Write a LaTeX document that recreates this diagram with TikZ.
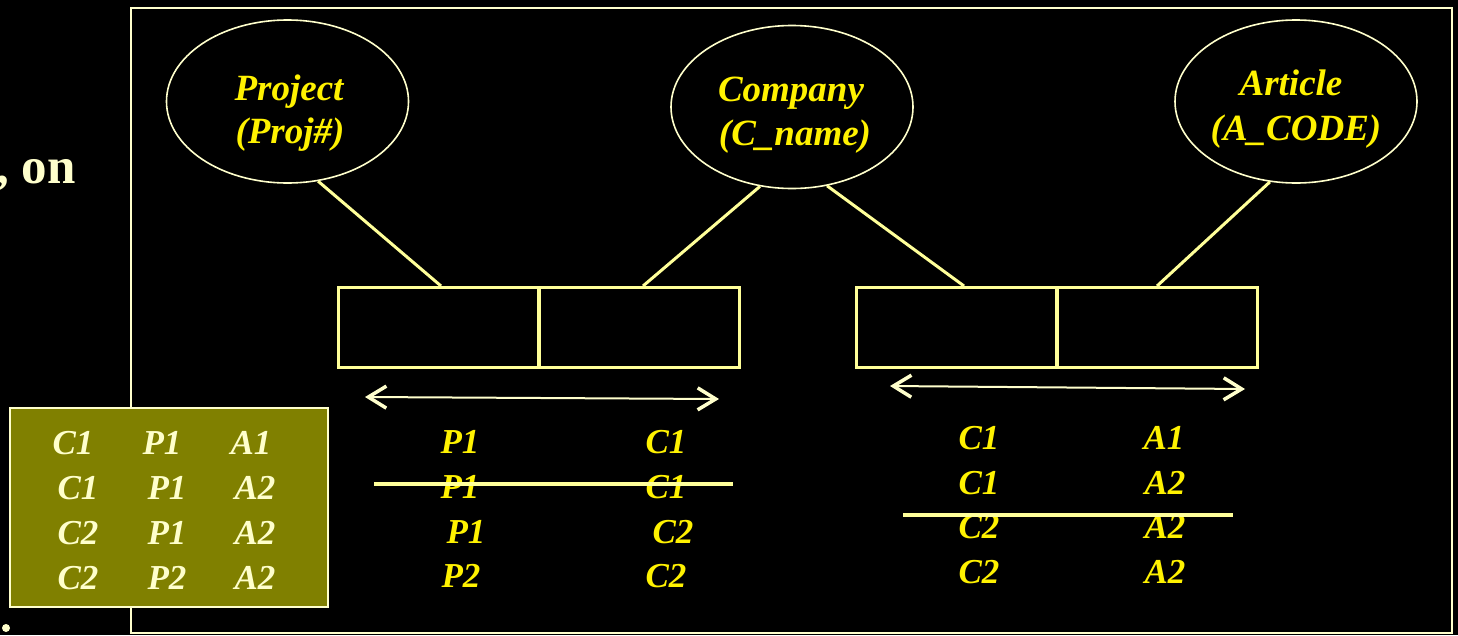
\documentclass[tikz,border=0pt]{standalone}
\usepackage{fontspec}
\setmainfont{Liberation Serif}
\usetikzlibrary{arrows.meta,calc,shapes.geometric}
\definecolor{cream}{HTML}{FFFFCC}
\definecolor{paleyel}{HTML}{FFFF99}
\definecolor{olivebg}{HTML}{808000}
\begin{document}
\begin{tikzpicture}[x=1pt,y=-1pt,
  entity/.style={draw=cream,line width=1.6pt,ellipse,minimum width=242pt,minimum height=163pt,inner sep=0pt},
  cell/.style={draw=paleyel,line width=3pt,minimum width=200pt,minimum height=80pt,inner sep=0pt},
  link/.style={draw=paleyel,line width=3pt},
  strike/.style={draw=paleyel,line width=3.5pt},
  span/.style={draw=cream,line width=2pt,{Straight Barb[length=18pt,width=22pt,line width=3.5pt]}-{Straight Barb[length=18pt,width=22pt,line width=3.5pt]}},
  etext/.style={text=yellow,font=\fontsize{37}{41}\selectfont\bfseries\itshape,anchor=base,inner sep=0pt},
  val/.style={text=yellow,font=\fontsize{35}{39}\selectfont\bfseries\itshape,anchor=base,inner sep=0pt},
  oval/.style={text=cream,font=\fontsize{35}{39}\selectfont\bfseries\itshape,anchor=base,inner sep=0pt}]
\useasboundingbox (0,0) rectangle (1458,635);
\fill[black] (0,0) rectangle (1458,635);

% left margin text and bullet
\node[text=cream,font=\fontsize{51}{56}\selectfont\bfseries,anchor=base east,inner sep=0pt] (lefttxt) at (76,183) {, on};
\fill[cream] (6,628) circle (4);

% frame
\draw[cream,line width=1.8pt] (131,8) rectangle (1452,633);

% entities
\node[entity] (proj) at (287.5,101.5) {};
\node[entity] (comp) at (792,107) {};
\node[entity] (art) at (1296,101.5) {};
\node[etext] (projA) at (289,100) {Project};
\node[etext] (projB) at (290,143) {(Proj\#)};
\node[etext] (compA) at (791,101) {Company};
\node[etext] (compB) at (795,145) {(C\_name)};
\node[etext] (artA) at (1291,95) {Article};
\node[etext] (artB) at (1296,140) {(A\_CODE)};

% relation records
\node[cell] (pa) at (438.5,327.5) {};
\node[cell] (pb) at (639,327.5) {};
\node[cell] (ca) at (956.5,327.5) {};
\node[cell] (cb) at (1157,327.5) {};

% links from entities to record fields
\draw[link] (proj.-69) -- ($(pa.north)+(2.5,0)$);
\draw[link] (comp.-112) -- ($(pb.north)+(4,0)$);
\draw[link] (comp.-66.5) -- ($(ca.north)+(7.5,0)$);
\draw[link] (art.-108.8) -- (cb.north);

% span arrows
\coordinate (s1a) at (365,397);
\coordinate (s1b) at (719,399);
\coordinate (s2a) at (890,386);
\coordinate (s2b) at (1245,389);
\draw[span] (s1a) -- (s1b);
\draw[span] (s2a) -- (s2b);

% project / company pairs
\node[val] (l1a) at (460,453) {P1};
\node[val] (l1b) at (666,453) {C1};
\node[val] (l2a) at (460,498) {P1};
\node[val] (l2b) at (666,498) {C1};
\node[val] (l3a) at (466,543) {P1};
\node[val] (l3b) at (673,543) {C2};
\node[val] (l4a) at (461,587) {P2};
\node[val] (l4b) at (666,587) {C2};
\coordinate (k1a) at (374,484);
\coordinate (k1b) at (733,484);
\draw[strike] (k1a) -- (k1b);

% company / article pairs
\node[val] (r1a) at (979,449) {C1};
\node[val] (r1b) at (1164,449) {A1};
\node[val] (r2a) at (979,494) {C1};
\node[val] (r2b) at (1165,494) {A2};
\node[val] (r3a) at (979,538) {C2};
\node[val] (r3b) at (1165,538) {A2};
\node[val] (r4a) at (979,583) {C2};
\node[val] (r4b) at (1165,583) {A2};
\coordinate (k2a) at (903,515);
\coordinate (k2b) at (1233,515);
\draw[strike,line width=4pt] (k2a) -- (k2b);

% ternary table
\draw[cream,line width=1.5pt,fill=olivebg] (10,408) rectangle (328,607);
\node[oval] (t11) at (73,454) {C1};
\node[oval] (t12) at (162,454) {P1};
\node[oval] (t13) at (251,454) {A1};
\node[oval] (t21) at (78,499) {C1};
\node[oval] (t22) at (167,499) {P1};
\node[oval] (t23) at (255,499) {A2};
\node[oval] (t31) at (78,544) {C2};
\node[oval] (t32) at (167,544) {P1};
\node[oval] (t33) at (255,544) {A2};
\node[oval] (t41) at (78,589) {C2};
\node[oval] (t42) at (167,589) {P2};
\node[oval] (t43) at (255,589) {A2};
\end{tikzpicture}
\end{document}
